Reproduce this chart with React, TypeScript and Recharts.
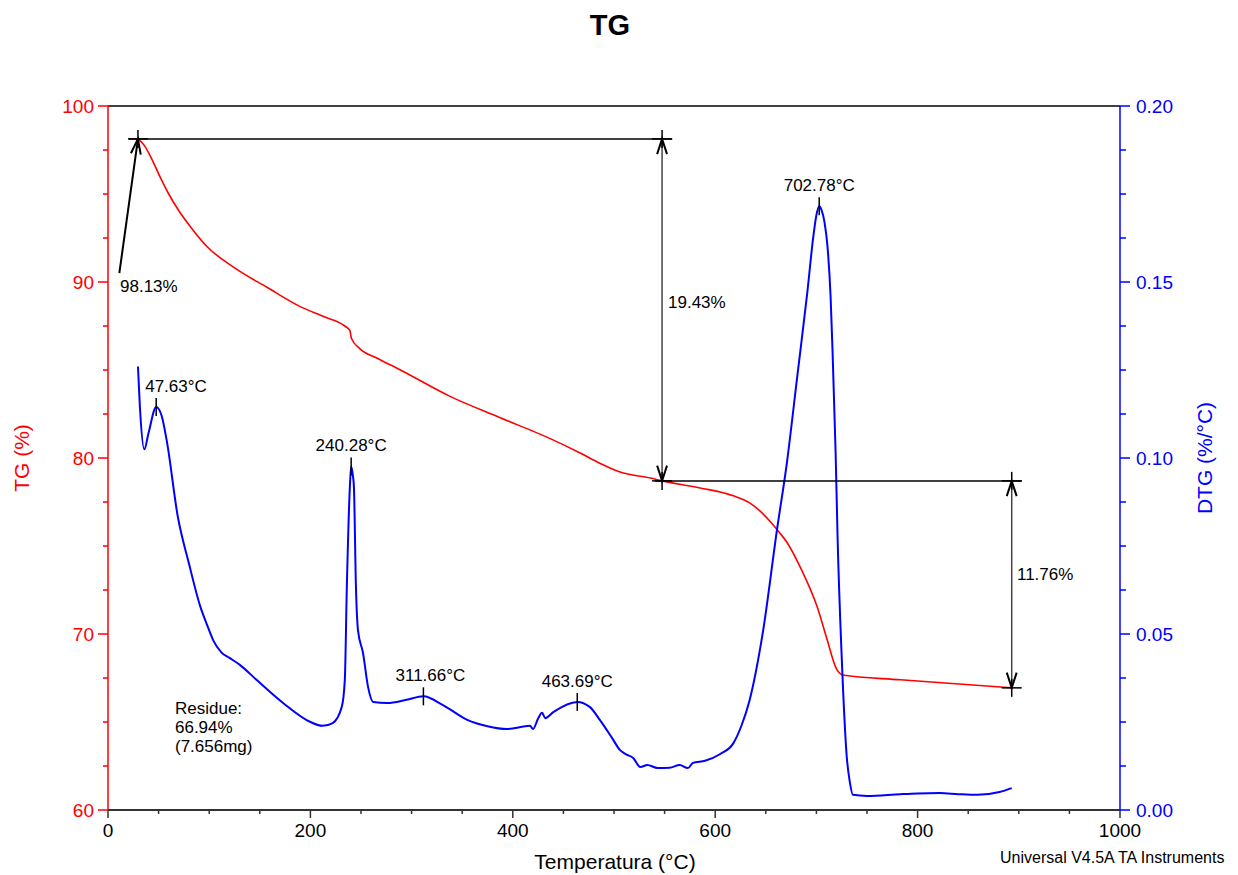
import React from 'react';
import { LineChart, Line, XAxis, YAxis, ReferenceLine, ReferenceDot } from 'recharts';

// TG curve (temperature °C, mass %)
const tgTemp = [29.6, 36, 44, 52, 60, 70, 82, 98, 124, 157, 190, 215, 234, 239, 240.5, 249, 265, 289, 338, 387, 437, 466, 486, 506, 536, 547.5, 585, 618, 634, 645, 655, 663, 671, 684, 701, 710, 720, 726, 783, 893];
const tgValue = [98.13, 97.75, 96.9, 95.9, 95.0, 94.05, 93.1, 92.0, 90.85, 89.7, 88.6, 88.0, 87.5, 87.25, 86.8, 86.2, 85.7, 85.0, 83.5, 82.3, 81.1, 80.3, 79.7, 79.2, 78.86, 78.7, 78.3, 77.85, 77.45, 76.95, 76.35, 75.8, 75.2, 73.8, 71.5, 69.8, 68.0, 67.67, 67.4, 66.94];

// DTG curve (temperature °C, %/°C)
const dtgTemp = [29.6, 31.5, 35.9, 40, 47.63, 53, 58, 69, 80, 91, 98, 104, 112, 120, 130, 147, 173, 200, 212, 222, 231, 234, 236, 239, 240.28, 242, 243, 245, 247, 252, 257, 262, 276, 295, 311.66, 331, 355, 375, 394, 417, 420, 425, 429, 432, 440, 463.69, 476, 486, 498, 506, 512, 519, 526, 533, 543, 555, 565, 573, 578, 590, 605, 618, 626, 634, 647, 661, 671, 681, 691, 697, 700, 702.78, 705, 708, 711, 714, 716, 719, 721, 725, 730, 733, 736, 750, 783, 800, 822, 840, 859, 881, 893];
const dtgValue = [0.126, 0.1146, 0.1025, 0.107, 0.1145, 0.112, 0.105, 0.0833, 0.070, 0.058, 0.0525, 0.0482, 0.0448, 0.0432, 0.0413, 0.0369, 0.0304, 0.025, 0.0239, 0.0247, 0.0293, 0.0369, 0.0634, 0.0918, 0.0976, 0.095, 0.0918, 0.0634, 0.0511, 0.0446, 0.0349, 0.0307, 0.0304, 0.0313, 0.0323, 0.0298, 0.0256, 0.0238, 0.023, 0.0239, 0.023, 0.026, 0.0276, 0.0261, 0.0278, 0.0307, 0.0293, 0.0256, 0.0205, 0.017, 0.0158, 0.0148, 0.0122, 0.0128, 0.0119, 0.012, 0.0128, 0.0119, 0.0134, 0.014, 0.0159, 0.019, 0.024, 0.0312, 0.0503, 0.0795, 0.099, 0.123, 0.147, 0.163, 0.169, 0.1715, 0.1705, 0.167, 0.160, 0.146, 0.130, 0.1014, 0.0767, 0.0435, 0.0151, 0.008, 0.0043, 0.004, 0.0045, 0.0047, 0.0048, 0.0045, 0.0043, 0.0051, 0.0062];

const xTicks = [0, 50, 100, 150, 200, 250, 300, 350, 400, 450, 500, 550, 600, 650, 700, 750, 800, 850, 900, 950, 1000];
const tgTicks = [60, 62.5, 65, 67.5, 70, 72.5, 75, 77.5, 80, 82.5, 85, 87.5, 90, 92.5, 95, 97.5, 100];
const dtgTicks = [0, 0.0125, 0.025, 0.0375, 0.05, 0.0625, 0.075, 0.0875, 0.1, 0.1125, 0.125, 0.1375, 0.15, 0.1625, 0.175, 0.1875, 0.2];

// step analysis
const stepTemps = [29.6, 547.5, 893];
const stepLevels = [98.13, 78.7, 66.94];
const stepLabels = ['98.13%', '19.43%', '11.76%'];

// peak labels on DTG
const peakTemps = [47.63, 240.28, 311.66, 463.69, 702.78];
const peakDtg = [0.1145, 0.0976, 0.0323, 0.0307, 0.1715];
const peakLabels = ['47.63°C', '240.28°C', '311.66°C', '463.69°C', '702.78°C'];

const tgData = tgTemp.map((t, i) => ({ t, v: tgValue[i] }));
const dtgData = dtgTemp.map((t, i) => ({ t, v: dtgValue[i] }));

const FONT = '"Liberation Sans", Arial, sans-serif';

const isMult = (v: number, step: number) => Math.abs(v / step - Math.round(v / step)) < 1e-6;

const BottomTick = ({ x, y, payload }: any) => {
  const major = isMult(payload.value, 200);
  return (
    <g>
      <line x1={x} x2={x} y1={y} y2={y + (major ? 8 : 4)} stroke="#333" strokeWidth={1.5} />
      {major && (
        <text x={x} y={y + 27} textAnchor="middle" fontSize={19} fontFamily={FONT} fill="#000">
          {payload.value}
        </text>
      )}
    </g>
  );
};

const LeftTick = ({ x, y, payload }: any) => {
  const major = isMult(payload.value, 10);
  return (
    <g>
      <line x1={x} x2={x - (major ? 10 : 5)} y1={y} y2={y} stroke="#ff0000" strokeWidth={1.5} />
      {major && (
        <text x={x - 14} y={y + 7} textAnchor="end" fontSize={19} fontFamily={FONT} fill="#ff0000">
          {payload.value}
        </text>
      )}
    </g>
  );
};

const RightTick = ({ x, y, payload }: any) => {
  const major = isMult(payload.value, 0.05);
  return (
    <g>
      <line x1={x} x2={x + (major ? 10 : 6)} y1={y} y2={y} stroke="#0000ff" strokeWidth={1.5} />
      {major && (
        <text x={x + 16} y={y + 7} textAnchor="start" fontSize={19} fontFamily={FONT} fill="#0000ff">
          {payload.value.toFixed(2)}
        </text>
      )}
    </g>
  );
};

const Cross = ({ cx, cy }: any) => (
  <g stroke="#000" strokeWidth={1.5}>
    <line x1={cx - 10} x2={cx + 10} y1={cy} y2={cy} />
    <line x1={cx} x2={cx} y1={cy - 9} y2={cy + 9} />
  </g>
);

const arrowHead = (angle: number) => ({ cx, cy }: any) => {
  const L = 16;
  const a1 = ((angle + 162) * Math.PI) / 180;
  const a2 = ((angle + 198) * Math.PI) / 180;
  return (
    <path
      d={`M${cx + L * Math.cos(a1)},${cy + L * Math.sin(a1)} L${cx},${cy} L${cx + L * Math.cos(a2)},${cy + L * Math.sin(a2)}`}
      fill="none"
      stroke="#000"
      strokeWidth={2}
    />
  );
};

const peakShape = (label: string, dx: number, anchor: string) => ({ cx, cy }: any) => (
  <g>
    <line x1={cx} x2={cx} y1={cy - 9} y2={cy + 9} stroke="#000" strokeWidth={1.5} />
    <text x={cx + dx} y={cy - 15} textAnchor={anchor} fontSize={17} fontFamily={FONT} fill="#000">
      {label}
    </text>
  </g>
);

const noteShape = (lines: string[]) => ({ cx, cy }: any) => (
  <text x={cx} y={cy} fontSize={17} fontFamily={FONT} fill="#000">
    {lines.map((l, i) => (
      <tspan key={i} x={cx} dy={i === 0 ? 0 : 19}>
        {l}
      </tspan>
    ))}
  </text>
);

const peakOffsets = [-11, 0, 7, 0, 0];
const peakAnchors = ['start', 'middle', 'middle', 'middle', 'middle'];

export default function App() {
  const [t0, t1, t2] = stepTemps;
  const [l0, l1, l2] = stepLevels;
  return (
    <div style={{ position: 'absolute', left: 0, top: 0, width: 1238, height: 875, background: '#fff', fontFamily: FONT }}>
      <div style={{ position: 'absolute', left: 610, top: 25, transform: 'translate(-50%, -50%)', fontSize: 29, fontWeight: 'bold' }}>TG</div>
      <div style={{ position: 'absolute', left: 22, top: 458, transform: 'translate(-50%, -50%) rotate(-90deg)', fontSize: 21, color: '#ff0000', whiteSpace: 'nowrap' }}>TG (%)</div>
      <div style={{ position: 'absolute', left: 1205, top: 458, transform: 'translate(-50%, -50%) rotate(-90deg)', fontSize: 21, color: '#0000ff', whiteSpace: 'nowrap' }}>DTG (%/°C)</div>
      <div style={{ position: 'absolute', left: 615, top: 862, transform: 'translate(-50%, -50%)', fontSize: 21, whiteSpace: 'nowrap' }}>Temperatura (°C)</div>
      <div style={{ position: 'absolute', left: 1000, top: 858, transform: 'translateY(-50%)', fontSize: 16, whiteSpace: 'nowrap' }}>Universal V4.5A TA Instruments</div>

      <LineChart width={1238} height={875} margin={{ top: 106, right: 0, bottom: 0, left: 0 }}>
        <XAxis
          type="number"
          dataKey="t"
          domain={[0, 1000]}
          ticks={xTicks}
          interval={0}
          height={65}
          tickSize={0}
          tickMargin={0}
          tickLine={false}
          axisLine={{ stroke: '#333', strokeWidth: 2 }}
          tick={<BottomTick />}
          allowDataOverflow
        />
        <YAxis
          yAxisId="left"
          type="number"
          domain={[60, 100]}
          ticks={tgTicks}
          interval={0}
          width={108}
          tickSize={0}
          tickMargin={0}
          tickLine={false}
          axisLine={{ stroke: '#ff0000', strokeWidth: 1.5 }}
          tick={<LeftTick />}
          allowDataOverflow
        />
        <YAxis
          yAxisId="right"
          orientation="right"
          type="number"
          domain={[0, 0.2]}
          ticks={dtgTicks}
          interval={0}
          width={118}
          tickSize={0}
          tickMargin={0}
          tickLine={false}
          axisLine={{ stroke: '#0000ff', strokeWidth: 1.5 }}
          tick={<RightTick />}
          allowDataOverflow
        />

        <ReferenceLine yAxisId="left" y={100} stroke="#000" strokeWidth={1.5} />

        <Line yAxisId="left" data={tgData} dataKey="v" type="monotone" stroke="#ff0000" strokeWidth={1.6} dot={false} isAnimationActive={false} />
        <Line yAxisId="right" data={dtgData} dataKey="v" type="monotone" stroke="#0000ff" strokeWidth={2} dot={false} isAnimationActive={false} />

        {/* step measurement */}
        <ReferenceLine yAxisId="left" segment={[{ x: 11.2, y: 90.5 }, { x: t0, y: l0 }]} stroke="#000" strokeWidth={2} />
        <ReferenceLine yAxisId="left" segment={[{ x: 20.7, y: l0 }, { x: t1 + 10, y: l0 }]} stroke="#000" strokeWidth={1.5} />
        <ReferenceLine yAxisId="left" segment={[{ x: t1, y: l0 }, { x: t1, y: l1 }]} stroke="#444" strokeWidth={1.5} />
        <ReferenceLine yAxisId="left" segment={[{ x: t1 - 7, y: l1 }, { x: t2 + 10, y: l1 }]} stroke="#000" strokeWidth={1.5} />
        <ReferenceLine yAxisId="left" segment={[{ x: t2, y: l1 }, { x: t2, y: l2 }]} stroke="#444" strokeWidth={1.5} />

        <ReferenceDot yAxisId="left" x={t0} y={l0} shape={Cross} ifOverflow="visible" />
        <ReferenceDot yAxisId="left" x={t1} y={l0} shape={Cross} ifOverflow="visible" />
        <ReferenceDot yAxisId="left" x={t1} y={l1} shape={Cross} ifOverflow="visible" />
        <ReferenceDot yAxisId="left" x={t2} y={l1} shape={Cross} ifOverflow="visible" />
        <ReferenceDot yAxisId="left" x={t2} y={l2} shape={Cross} ifOverflow="visible" />

        <ReferenceDot yAxisId="left" x={t0} y={l0} shape={arrowHead(-82)} ifOverflow="visible" />
        <ReferenceDot yAxisId="left" x={t1} y={l0} shape={arrowHead(-90)} ifOverflow="visible" />
        <ReferenceDot yAxisId="left" x={t1} y={l1} shape={arrowHead(90)} ifOverflow="visible" />
        <ReferenceDot yAxisId="left" x={t2} y={l1} shape={arrowHead(-90)} ifOverflow="visible" />
        <ReferenceDot yAxisId="left" x={t2} y={l2} shape={arrowHead(90)} ifOverflow="visible" />

        <ReferenceDot yAxisId="left" x={11.9} y={89.43} shape={noteShape([stepLabels[0]])} ifOverflow="visible" />
        <ReferenceDot yAxisId="left" x={553.4} y={88.52} shape={noteShape([stepLabels[1]])} ifOverflow="visible" />
        <ReferenceDot yAxisId="left" x={898.2} y={73.07} shape={noteShape([stepLabels[2]])} ifOverflow="visible" />
        <ReferenceDot yAxisId="left" x={66.2} y={65.45} shape={noteShape(['Residue:', `${l2}%`, '(7.656mg)'])} ifOverflow="visible" />

        {peakTemps.map((t, i) => (
          <ReferenceDot
            key={t}
            yAxisId="right"
            x={t}
            y={peakDtg[i]}
            shape={peakShape(peakLabels[i], peakOffsets[i], peakAnchors[i])}
            ifOverflow="visible"
          />
        ))}
      </LineChart>
    </div>
  );
}
